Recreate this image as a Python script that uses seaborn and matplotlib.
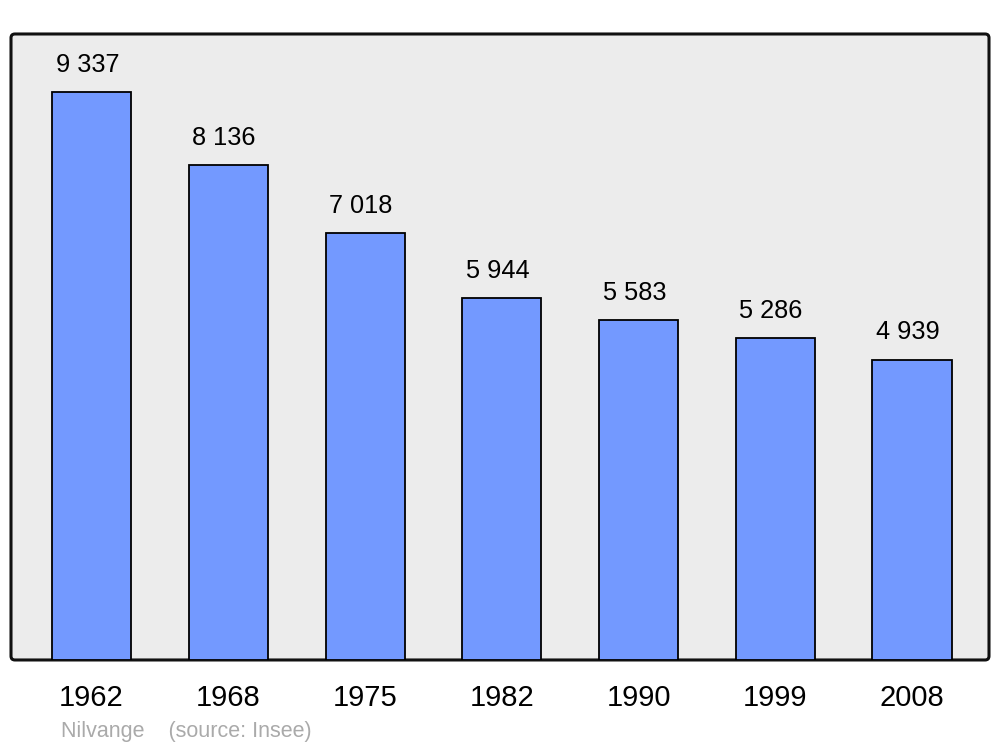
import matplotlib
matplotlib.use('Agg')
import matplotlib.pyplot as plt
import seaborn as sns
import pandas as pd
from matplotlib.patches import FancyBboxPatch

# Population data
years = ['1962', '1968', '1975', '1982', '1990', '1999', '2008']
population = [9337, 8136, 7018, 5944, 5583, 5286, 4939]
value_labels = ['9 337', '8 136', '7 018', '5 944', '5 583', '5 286', '4 939']

df = pd.DataFrame({'Year': years, 'Population': population})

sns.set_style('white')
plt.rcParams['font.family'] = ['Liberation Sans', 'DejaVu Sans']

fig = plt.figure(figsize=(10, 7.47), dpi=100)
ax = fig.add_axes([0.011, 0.1165, 0.978, 0.838])
ax.set_facecolor('none')

# Rounded frame behind the bars
frame = FancyBboxPatch((0, 0), 1, 1, boxstyle='round,pad=0,rounding_size=0.004',
                       mutation_aspect=978 / 626, transform=ax.transAxes,
                       facecolor='#ececec', edgecolor='#111111', linewidth=2.2,
                       zorder=0, clip_on=False)
ax.add_patch(frame)

sns.barplot(data=df, x='Year', y='Population', color='#7399ff', saturation=1,
            width=0.578, edgecolor='black', linewidth=1.3, ax=ax, zorder=2)

ax.set_xlim(-0.589, 6.563)
ax.set_ylim(0, 10290)

# Value labels on top of each bar
for i, (v, lab) in enumerate(zip(population, value_labels)):
    ax.annotate(lab, (i, v), xytext=(-3, 11), textcoords='offset points',
                ha='center', va='bottom', fontsize=18.3, color='black')

for s in ax.spines.values():
    s.set_visible(False)
ax.set_yticks([])
ax.set_xlabel('')
ax.set_ylabel('')
ax.tick_params(axis='x', length=0, pad=17, labelsize=21, labelcolor='black')

fig.text(0.061, 0.0135, 'Nilvange    (source: Insee)', color='#aaaaaa', fontsize=15.5)

plt.savefig('out.png', dpi=100)
